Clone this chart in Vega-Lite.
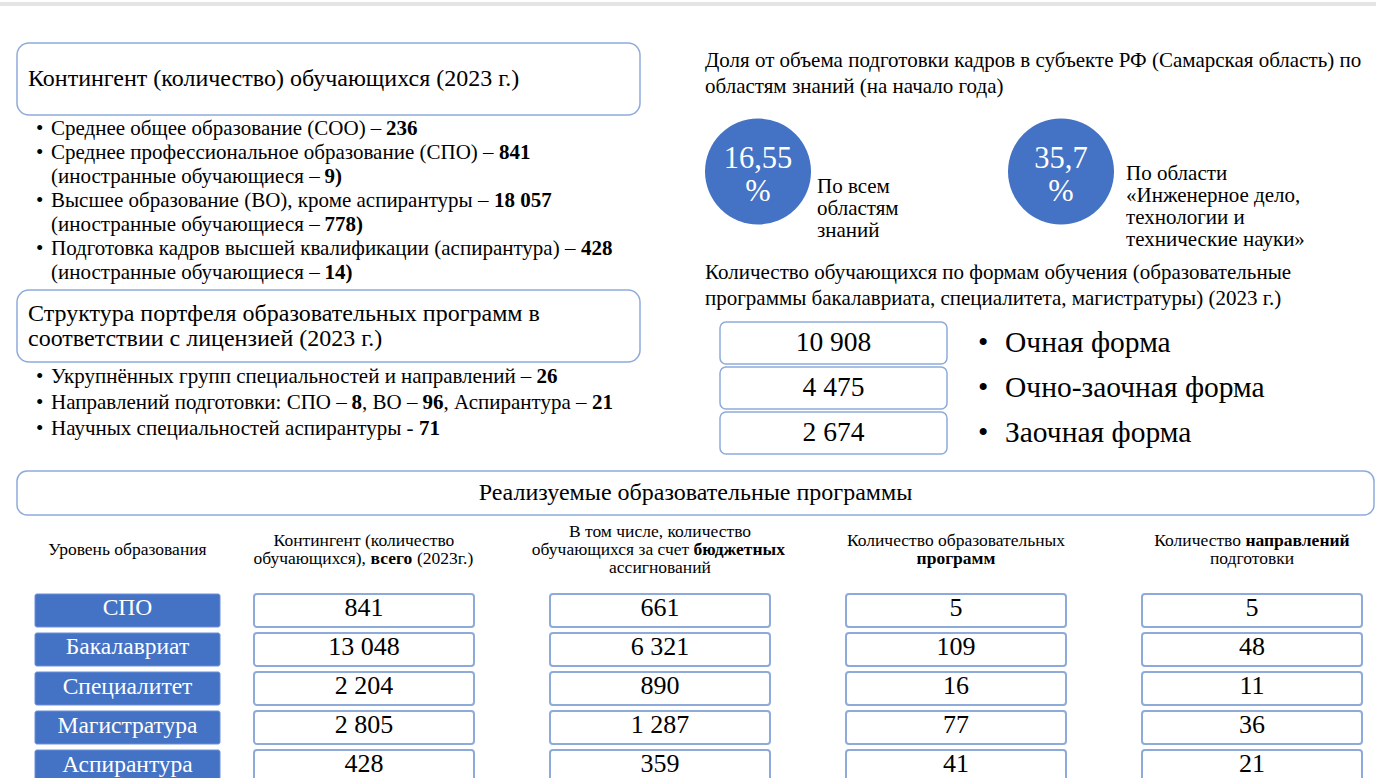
{
  "$schema": "https://vega.github.io/schema/vega-lite/v6.json",
  "width": 1376,
  "height": 778,
  "padding": 0,
  "autosize": {"type": "none"},
  "background": "white",
  "config": {
    "view": {"stroke": null},
    "font": "Liberation Serif",
    "locale": {"number": {"decimal": ",", "thousands": " ", "grouping": [3], "currency": ["", ""]}},
    "mark": {"font": "Liberation Serif"},
    "text": {"font": "Liberation Serif", "fontSize": 21, "align": "left", "baseline": "middle", "color": "#000000"}
  },
  "datasets": {
    "panels": [
      {"panel": "contingent", "side": "left", "title": ["Контингент (количество) обучающихся (2023 г.)"]},
      {"panel": "portfolio", "side": "left", "title": ["Структура портфеля образовательных программ в", "соответствии с лицензией (2023 г.)"]}
    ],
    "contingent_lines": [
      {"line": "l1", "bullet": "•", "text": "Среднее общее образование (СОО) –", "value": "236"},
      {"line": "l2", "bullet": "•", "text": "Среднее профессиональное образование (СПО) –", "value": "841"},
      {"line": "l3", "bullet": "", "text": "(иностранные обучающиеся –", "value": "9)"},
      {"line": "l4", "bullet": "•", "text": "Высшее образование (ВО), кроме аспирантуры –", "value": "18 057"},
      {"line": "l5", "bullet": "", "text": "(иностранные обучающиеся –", "value": "778)"},
      {"line": "l6", "bullet": "•", "text": "Подготовка кадров высшей квалификации (аспирантура) –", "value": "428"},
      {"line": "l7", "bullet": "", "text": "(иностранные обучающиеся –", "value": "14)"}
    ],
    "portfolio_lines": [
      {"line": "m1", "bullet": "•", "text": "Укрупнённых групп специальностей и направлений –", "value": "26"},
      {"line": "m2", "bullet": "•", "text": "Направлений подготовки: СПО –", "value": "8", "text2": ", ВО –", "value2": "96", "text3": ", Аспирантура –", "value3": "21"},
      {"line": "m3", "bullet": "•", "text": "Научных специальностей аспирантуры -", "value": "71"}
    ],
    "notes": [
      {"note": "share", "text": ["Доля от объема подготовки кадров в субъекте РФ (Самарская область) по", "областям знаний (на начало года)"]},
      {"note": "forms", "text": ["Количество обучающихся по формам обучения (образовательные", "программы бакалавриата, специалитета, магистратуры) (2023 г.)"]}
    ],
    "shares": [
      {"scope": "all", "value": 16.55, "label": ["По всем", "областям", "знаний"]},
      {"scope": "engineering", "value": 35.7, "label": ["По области", "«Инженерное дело,", "технологии и", "технические науки»"]}
    ],
    "forms": [
      {"form": "Очная форма", "students": 10908},
      {"form": "Очно-заочная форма", "students": 4475},
      {"form": "Заочная форма", "students": 2674}
    ],
    "programs": [
      {"level": "СПО", "contingent": 841, "budget": 661, "programs": 5, "directions": 5},
      {"level": "Бакалавриат", "contingent": 13048, "budget": 6321, "programs": 109, "directions": 48},
      {"level": "Специалитет", "contingent": 2204, "budget": 890, "programs": 16, "directions": 11},
      {"level": "Магистратура", "contingent": 2805, "budget": 1287, "programs": 77, "directions": 36},
      {"level": "Аспирантура", "contingent": 428, "budget": 359, "programs": 41, "directions": 21}
    ],
    "header_lines": [
      {"column": "level", "slot": "c", "text": "Уровень образования"},
      {"column": "contingent", "slot": "b", "text": "Контингент (количество"},
      {"column": "contingent", "slot": "d", "pre": "обучающихся),", "bold": "всего", "post": "(2023г.)"},
      {"column": "budget", "slot": "a", "text": "В том числе, количество"},
      {"column": "budget", "slot": "c", "pre": "обучающихся за счет", "bold": "бюджетных"},
      {"column": "budget", "slot": "e", "text": "ассигнований"},
      {"column": "programs", "slot": "b", "text": "Количество образовательных"},
      {"column": "programs", "slot": "d", "boldText": "программ"},
      {"column": "directions", "slot": "b", "pre": "Количество", "bold": "направлений"},
      {"column": "directions", "slot": "d", "text": "подготовки"}
    ]
  },
  "resolve": {"scale": {"x": "independent", "y": "independent"}},
  "layer": [
    {
      "data": {"values": [{"part": "page header"}]},
      "mark": {"type": "rule", "color": "#e4e4e4", "strokeWidth": 4},
      "encoding": {
        "y": {"field": "part", "type": "nominal", "scale": {"type": "point", "domain": ["page header"], "range": [4, 4], "padding": 0}, "axis": null}
      }
    },
    {
      "data": {"name": "panels"},
      "resolve": {"scale": {"y": "independent"}},
      "layer": [
        {
          "mark": {"type": "rect", "fill": "white", "stroke": "#8eaadb", "strokeWidth": 1.5, "cornerRadius": 12},
          "encoding": {
            "x": {"field": "side", "type": "nominal", "scale": {"type": "band", "domain": ["left"], "range": [17, 640], "paddingInner": 0, "paddingOuter": 0}, "axis": null},
            "y": {"field": "panel", "type": "nominal", "scale": {"type": "band", "domain": ["contingent", "portfolio"], "range": [43, 362], "paddingInner": 0.7085, "paddingOuter": 0}, "axis": null}
          }
        },
        {
          "mark": {"type": "text", "font": "Liberation Serif", "align": "left", "dx": 11, "fontSize": 24, "lineHeight": 25},
          "encoding": {
            "x": {"field": "side", "type": "nominal", "bandPosition": 0, "scale": {"type": "band", "domain": ["left"], "range": [17, 640], "paddingInner": 0, "paddingOuter": 0}, "axis": null},
            "y": {"field": "panel", "type": "nominal", "scale": {"type": "point", "domain": ["contingent", "portfolio"], "range": [79, 314], "padding": 0}, "axis": null},
            "text": {"field": "title"}
          }
        }
      ]
    },
    {
      "data": {"name": "contingent_lines"},
      "encoding": {
        "y": {"field": "line", "type": "nominal", "scale": {"type": "point", "domain": ["l1", "l2", "l3", "l4", "l5", "l6", "l7"], "range": [129, 273], "padding": 0}, "axis": null},
        "x": {"datum": "text", "type": "nominal", "scale": {"type": "point", "domain": ["bullet", "text"], "range": [36, 51], "padding": 0}, "axis": null}
      },
      "layer": [
        {
          "mark": {"type": "text", "font": "Liberation Serif", "align": "left"},
          "encoding": {
            "x": {"datum": "bullet", "type": "nominal", "scale": {"type": "point", "domain": ["bullet", "text"], "range": [36, 51], "padding": 0}, "axis": null},
            "text": {"field": "bullet"}
          }
        },
        {"mark": {"type": "text", "font": "Liberation Serif", "align": "left"}, "encoding": {"text": {"field": "text"}}},
        {"transform": [{"filter": {"field": "line", "equal": "l1"}}], "mark": {"type": "text", "font": "Liberation Serif", "align": "left", "fontWeight": "bold", "dx": 335}, "encoding": {"text": {"field": "value"}}},
        {"transform": [{"filter": {"field": "line", "equal": "l2"}}], "mark": {"type": "text", "font": "Liberation Serif", "align": "left", "fontWeight": "bold", "dx": 448}, "encoding": {"text": {"field": "value"}}},
        {"transform": [{"filter": {"field": "line", "oneOf": ["l3", "l5", "l7"]}}], "mark": {"type": "text", "font": "Liberation Serif", "align": "left", "fontWeight": "bold", "dx": 273.5}, "encoding": {"text": {"field": "value"}}},
        {"transform": [{"filter": {"field": "line", "equal": "l4"}}], "mark": {"type": "text", "font": "Liberation Serif", "align": "left", "fontWeight": "bold", "dx": 443}, "encoding": {"text": {"field": "value"}}},
        {"transform": [{"filter": {"field": "line", "equal": "l6"}}], "mark": {"type": "text", "font": "Liberation Serif", "align": "left", "fontWeight": "bold", "dx": 530}, "encoding": {"text": {"field": "value"}}}
      ]
    },
    {
      "data": {"name": "portfolio_lines"},
      "encoding": {
        "y": {"field": "line", "type": "nominal", "scale": {"type": "point", "domain": ["m1", "m2", "m3"], "range": [377, 429], "padding": 0}, "axis": null},
        "x": {"datum": "text", "type": "nominal", "scale": {"type": "point", "domain": ["bullet", "text"], "range": [36, 51], "padding": 0}, "axis": null}
      },
      "layer": [
        {
          "mark": {"type": "text", "font": "Liberation Serif", "align": "left"},
          "encoding": {
            "x": {"datum": "bullet", "type": "nominal", "scale": {"type": "point", "domain": ["bullet", "text"], "range": [36, 51], "padding": 0}, "axis": null},
            "text": {"field": "bullet"}
          }
        },
        {"mark": {"type": "text", "font": "Liberation Serif", "align": "left"}, "encoding": {"text": {"field": "text"}}},
        {"transform": [{"filter": {"field": "line", "equal": "m1"}}], "mark": {"type": "text", "font": "Liberation Serif", "align": "left", "fontWeight": "bold", "dx": 485.5}, "encoding": {"text": {"field": "value"}}},
        {"transform": [{"filter": {"field": "line", "equal": "m2"}}], "mark": {"type": "text", "font": "Liberation Serif", "align": "left", "fontWeight": "bold", "dx": 300.5}, "encoding": {"text": {"field": "value"}}},
        {"transform": [{"filter": {"field": "line", "equal": "m3"}}], "mark": {"type": "text", "font": "Liberation Serif", "align": "left", "fontWeight": "bold", "dx": 368}, "encoding": {"text": {"field": "value"}}},
        {"transform": [{"filter": "isValid(datum.text2)"}], "mark": {"type": "text", "font": "Liberation Serif", "align": "left", "dx": 311}, "encoding": {"text": {"field": "text2"}}},
        {"transform": [{"filter": "isValid(datum.value2)"}], "mark": {"type": "text", "font": "Liberation Serif", "align": "left", "fontWeight": "bold", "dx": 371.5}, "encoding": {"text": {"field": "value2"}}},
        {"transform": [{"filter": "isValid(datum.text3)"}], "mark": {"type": "text", "font": "Liberation Serif", "align": "left", "dx": 392.5}, "encoding": {"text": {"field": "text3"}}},
        {"transform": [{"filter": "isValid(datum.value3)"}], "mark": {"type": "text", "font": "Liberation Serif", "align": "left", "fontWeight": "bold", "dx": 541}, "encoding": {"text": {"field": "value3"}}}
      ]
    },
    {
      "data": {"name": "notes"},
      "mark": {"type": "text", "font": "Liberation Serif", "align": "left", "fontSize": 21, "lineHeight": 26},
      "encoding": {
        "y": {"field": "note", "type": "nominal", "scale": {"type": "point", "domain": ["share", "forms"], "range": [61, 273], "padding": 0}, "axis": null},
        "x": {"datum": "right", "type": "nominal", "scale": {"type": "point", "domain": ["right"], "range": [705, 705], "padding": 0}, "axis": null},
        "text": {"field": "text"}
      }
    },
    {
      "data": {"name": "shares"},
      "resolve": {"scale": {"x": "independent", "y": "independent"}},
      "layer": [
        {
          "mark": {"type": "point", "shape": "circle", "filled": true, "color": "#4472c4", "opacity": 1, "size": 11236, "strokeWidth": 0},
          "encoding": {
            "x": {"field": "scope", "type": "nominal", "scale": {"type": "point", "domain": ["all", "engineering"], "range": [758, 1061], "padding": 0}, "axis": null},
            "y": {"datum": "circle", "type": "nominal", "scale": {"type": "point", "domain": ["circle"], "range": [171.5, 171.5], "padding": 0}, "axis": null}
          }
        },
        {
          "mark": {"type": "text", "font": "Liberation Serif", "align": "center", "color": "white", "fontSize": 30.5, "dy": -13},
          "encoding": {
            "x": {"field": "scope", "type": "nominal", "scale": {"type": "point", "domain": ["all", "engineering"], "range": [758, 1061], "padding": 0}, "axis": null},
            "y": {"datum": "circle", "type": "nominal", "scale": {"type": "point", "domain": ["circle"], "range": [171.5, 171.5], "padding": 0}, "axis": null},
            "text": {"field": "value", "type": "quantitative", "format": ".2~f"}
          }
        },
        {
          "mark": {"type": "text", "font": "Liberation Serif", "align": "center", "color": "white", "fontSize": 30.5, "dy": 20},
          "encoding": {
            "x": {"field": "scope", "type": "nominal", "scale": {"type": "point", "domain": ["all", "engineering"], "range": [758, 1061], "padding": 0}, "axis": null},
            "y": {"datum": "circle", "type": "nominal", "scale": {"type": "point", "domain": ["circle"], "range": [171.5, 171.5], "padding": 0}, "axis": null},
            "text": {"value": "%"}
          }
        },
        {
          "mark": {"type": "text", "font": "Liberation Serif", "align": "left", "fontSize": 21, "lineHeight": 22},
          "encoding": {
            "x": {"field": "scope", "type": "nominal", "scale": {"type": "point", "domain": ["all", "engineering"], "range": [817, 1126], "padding": 0}, "axis": null},
            "y": {"field": "scope", "type": "nominal", "scale": {"type": "point", "domain": ["all", "engineering"], "range": [187, 174], "padding": 0}, "axis": null},
            "text": {"field": "label"}
          }
        }
      ]
    },
    {
      "data": {"name": "forms"},
      "resolve": {"scale": {"x": "independent"}},
      "encoding": {
        "y": {"field": "form", "type": "nominal", "scale": {"type": "band", "domain": ["Очная форма", "Очно-заочная форма", "Заочная форма"], "range": [322, 454], "paddingInner": 0.067, "paddingOuter": 0}, "axis": null}
      },
      "layer": [
        {
          "mark": {"type": "rect", "fill": "white", "stroke": "#8eaadb", "strokeWidth": 1.5, "cornerRadius": 6},
          "encoding": {
            "x": {"datum": "count", "type": "nominal", "scale": {"type": "band", "domain": ["count"], "range": [720, 947], "paddingInner": 0, "paddingOuter": 0}, "axis": null}
          }
        },
        {
          "mark": {"type": "text", "font": "Liberation Serif", "align": "center", "fontSize": 27.5},
          "encoding": {
            "x": {"datum": "count", "type": "nominal", "scale": {"type": "band", "domain": ["count"], "range": [720, 947], "paddingInner": 0, "paddingOuter": 0}, "axis": null},
            "text": {"field": "students", "type": "quantitative", "format": ",d"}
          }
        },
        {
          "mark": {"type": "text", "font": "Liberation Serif", "align": "left", "fontSize": 29.5},
          "encoding": {
            "x": {"datum": "bullet", "type": "nominal", "scale": {"type": "point", "domain": ["bullet", "label"], "range": [978, 1005], "padding": 0}, "axis": null},
            "text": {"value": "•"}
          }
        },
        {
          "mark": {"type": "text", "font": "Liberation Serif", "align": "left", "fontSize": 29.5},
          "encoding": {
            "x": {"datum": "label", "type": "nominal", "scale": {"type": "point", "domain": ["bullet", "label"], "range": [978, 1005], "padding": 0}, "axis": null},
            "text": {"field": "form"}
          }
        }
      ]
    },
    {
      "data": {"values": [{"section": "Реализуемые образовательные программы", "side": "full"}]},
      "encoding": {
        "x": {"field": "side", "type": "nominal", "scale": {"type": "band", "domain": ["full"], "range": [17, 1374], "paddingInner": 0, "paddingOuter": 0}, "axis": null},
        "y": {"field": "section", "type": "nominal", "scale": {"type": "band", "range": [471, 515], "paddingInner": 0, "paddingOuter": 0}, "axis": null}
      },
      "layer": [
        {"mark": {"type": "rect", "fill": "white", "stroke": "#8eaadb", "strokeWidth": 1.5, "cornerRadius": 10}},
        {"mark": {"type": "text", "font": "Liberation Serif", "align": "center", "fontSize": 24}, "encoding": {"text": {"field": "section"}}}
      ]
    },
    {
      "data": {"name": "programs"},
      "resolve": {"scale": {"x": "independent"}},
      "encoding": {
        "y": {"field": "level", "type": "nominal", "scale": {"type": "band", "domain": ["СПО", "Бакалавриат", "Специалитет", "Магистратура", "Аспирантура"], "range": [594, 783], "paddingInner": 0.154, "paddingOuter": 0}, "axis": null}
      },
      "layer": [
        {
          "mark": {"type": "rect", "fill": "#4472c4", "stroke": "#6b8fd8", "strokeWidth": 1, "cornerRadius": 2},
          "encoding": {
            "x": {"datum": "level", "type": "nominal", "scale": {"type": "band", "domain": ["level"], "range": [35, 220], "paddingInner": 0, "paddingOuter": 0}, "axis": null}
          }
        },
        {
          "mark": {"type": "text", "font": "Liberation Serif", "align": "center", "color": "white", "fontSize": 23.5, "dy": -2},
          "encoding": {
            "x": {"datum": "level", "type": "nominal", "scale": {"type": "band", "domain": ["level"], "range": [35, 220], "paddingInner": 0, "paddingOuter": 0}, "axis": null},
            "text": {"field": "level"}
          }
        },
        {
          "transform": [{"fold": ["contingent", "budget", "programs", "directions"], "as": ["measure", "count"]}],
          "mark": {"type": "rect", "fill": "white", "stroke": "#8eaadb", "strokeWidth": 2, "cornerRadius": 3},
          "encoding": {
            "x": {"field": "measure", "type": "nominal", "scale": {"type": "band", "domain": ["contingent", "budget", "programs", "directions"], "range": [254, 1362], "paddingInner": 0.2568, "paddingOuter": 0}, "axis": null}
          }
        },
        {
          "transform": [{"fold": ["contingent", "budget", "programs", "directions"], "as": ["measure", "count"]}],
          "mark": {"type": "text", "font": "Liberation Serif", "align": "center", "fontSize": 26, "dy": -2.5},
          "encoding": {
            "x": {"field": "measure", "type": "nominal", "scale": {"type": "band", "domain": ["contingent", "budget", "programs", "directions"], "range": [254, 1362], "paddingInner": 0.2568, "paddingOuter": 0}, "axis": null},
            "text": {"field": "count", "type": "quantitative", "format": ",d"}
          }
        }
      ]
    },
    {
      "data": {"name": "header_lines"},
      "resolve": {"scale": {"x": "independent"}},
      "encoding": {
        "y": {"field": "slot", "type": "nominal", "scale": {"type": "point", "domain": ["a", "b", "c", "d", "e"], "range": [531.5, 567.5], "padding": 0}, "axis": null},
        "x": {"field": "column", "type": "nominal", "scale": {"type": "band", "domain": ["contingent", "budget", "programs", "directions"], "range": [254, 1362], "paddingInner": 0.2568, "paddingOuter": 0}, "axis": null}
      },
      "layer": [
        {
          "transform": [{"filter": {"field": "column", "equal": "level"}}],
          "mark": {"type": "text", "font": "Liberation Serif", "align": "center", "fontSize": 17.5},
          "encoding": {
            "x": {"field": "column", "type": "nominal", "scale": {"type": "band", "domain": ["level"], "range": [35, 220], "paddingInner": 0, "paddingOuter": 0}, "axis": null},
            "text": {"field": "text"}
          }
        },
        {
          "transform": [{"filter": "datum.column !== 'level' && isValid(datum.text)"}],
          "mark": {"type": "text", "font": "Liberation Serif", "align": "center", "fontSize": 17.5},
          "encoding": {"text": {"field": "text"}}
        },
        {
          "transform": [{"filter": "isValid(datum.boldText)"}],
          "mark": {"type": "text", "font": "Liberation Serif", "align": "center", "fontSize": 17.5, "fontWeight": "bold"},
          "encoding": {"text": {"field": "boldText"}}
        },
        {
          "transform": [{"filter": "datum.column === 'contingent' && isValid(datum.pre)"}],
          "mark": {"type": "text", "font": "Liberation Serif", "align": "right", "fontSize": 17.5, "dx": 2},
          "encoding": {"text": {"field": "pre"}}
        },
        {
          "transform": [{"filter": "datum.column === 'contingent' && isValid(datum.bold)"}],
          "mark": {"type": "text", "font": "Liberation Serif", "align": "left", "fontSize": 17.5, "fontWeight": "bold", "dx": 6.5},
          "encoding": {"text": {"field": "bold"}}
        },
        {
          "transform": [{"filter": "datum.column === 'contingent' && isValid(datum.post)"}],
          "mark": {"type": "text", "font": "Liberation Serif", "align": "left", "fontSize": 17.5, "dx": 53},
          "encoding": {"text": {"field": "post"}}
        },
        {
          "transform": [{"filter": "datum.column === 'budget' && isValid(datum.pre)"}],
          "mark": {"type": "text", "font": "Liberation Serif", "align": "right", "fontSize": 17.5, "dx": 29.2},
          "encoding": {"text": {"field": "pre"}}
        },
        {
          "transform": [{"filter": "datum.column === 'budget' && isValid(datum.bold)"}],
          "mark": {"type": "text", "font": "Liberation Serif", "align": "left", "fontSize": 17.5, "fontWeight": "bold", "dx": 33.6},
          "encoding": {"text": {"field": "bold"}}
        },
        {
          "transform": [{"filter": "datum.column === 'directions' && isValid(datum.pre)"}],
          "mark": {"type": "text", "font": "Liberation Serif", "align": "right", "fontSize": 17.5, "dx": -11},
          "encoding": {"text": {"field": "pre"}}
        },
        {
          "transform": [{"filter": "datum.column === 'directions' && isValid(datum.bold)"}],
          "mark": {"type": "text", "font": "Liberation Serif", "align": "left", "fontSize": 17.5, "fontWeight": "bold", "dx": -6.6},
          "encoding": {"text": {"field": "bold"}}
        }
      ]
    }
  ]
}
